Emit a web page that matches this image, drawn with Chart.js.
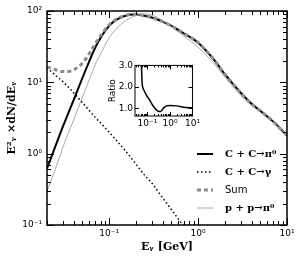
<!DOCTYPE html>
<html>
<head>
<meta charset="utf-8">
<script src="https://cdn.jsdelivr.net/npm/chart.js@4.4.1/dist/chart.umd.min.js"></script>
<style>
  html, body { margin: 0; padding: 0; background: #fff; }
  #wrap { position: relative; width: 301px; height: 258px; }
  #main { position: absolute; left: 0; top: 0; }
  #inset { position: absolute; left: 100px; top: 58px; }
</style>
</head>
<body>
<div id="wrap">
  <canvas id="main" width="301" height="258"></canvas>
  <canvas id="inset" width="102" height="74"></canvas>
</div>
<script>
// photon energy grid, GeV
const energy = [0.02, 0.025, 0.03, 0.035, 0.04, 0.05, 0.06, 0.07, 0.08, 0.1, 0.12, 0.15, 0.19,
  0.25, 0.3, 0.4, 0.5, 0.7, 1.0, 1.5, 2, 3, 4, 5, 7, 10];

// E^2 dN/dE
const ccPi0 = [0.62, 1.3, 2.35, 3.8, 5.7, 11.5, 20, 31, 42, 62, 75, 85, 89,
  86, 81, 71, 62, 48, 36, 21, 13, 7.2, 5.0, 4.0, 2.8, 1.8];
const ccGamma = [16, 12.5, 10.3, 8.5, 7.1, 5.2, 4.0, 3.2, 2.7, 2.0, 1.55, 1.12, 0.78,
  0.5, 0.39, 0.24, 0.165, 0.093, 0.05, null, null, null, null, null, null, null];
const sumCC = [16.5, 15, 14.2, 14.2, 15, 18.5, 25.5, 35, 45, 64, 76.5, 86, 90,
  86.5, 81.5, 71, 62, 48, 36, 21, 13, 7.2, 5.0, 4.0, 2.8, 1.8];
const ppPi0 = [0.3, 0.62, 1.2, 2.0, 3.0, 6.2, 11, 18, 25, 42, 56, 72, 84,
  91, 88, 74, 60, 44, 31, 18.5, 11.8, 6.6, 4.7, 3.8, 2.7, 1.85];

// inset: ratio C+C / p+p
const ratioEnergy = [0.05, 0.055, 0.057, 0.06, 0.07, 0.09, 0.12, 0.17, 0.24, 0.3, 0.38, 0.5, 0.7, 1, 2, 4, 10];
const ratio = [3.5, 2.8, 2.3, 2.05, 1.85, 1.62, 1.42, 1.15, 0.95, 0.87, 0.86, 1.0, 1.12, 1.14, 1.12, 1.06, 1.03];

const mainXTicks = [0.1, 1, 10];
const mainYTicks = [0.1, 1, 10, 100];
const insetXTicks = [0.1, 1, 10];
const insetYTicks = [1.0, 1.5, 2.0, 2.5, 3.0];

const SUP = { "-": "\u207B", "0": "\u2070", "1": "\u00B9", "2": "\u00B2", "3": "\u00B3" };

function powerLabel(value) {
  const exp = Math.round(Math.log10(value));
  return "10" + String(exp).split("").map((c) => SUP[c]).join("");
}

function toPoints(xs, ys) {
  return xs.map((x, i) => ({ x, y: ys[i] }));
}

function logTickValues(scale) {
  const out = [];
  const lo = Math.floor(Math.log10(scale.min));
  const hi = Math.ceil(Math.log10(scale.max));
  for (let e = lo; e <= hi; e++) {
    for (let m = 1; m <= 9; m++) {
      const v = m * Math.pow(10, e);
      if (v >= scale.min * 0.999 && v <= scale.max * 1.001) out.push([v, m === 1]);
    }
  }
  return out;
}

// matplotlib-like frame with inward ticks on all four sides
const frameTicks = {
  id: "frameTicks",
  afterDraw(chart, args, opts) {
    const { ctx, chartArea: a, scales } = chart;
    ctx.save();
    ctx.strokeStyle = "#000";
    ctx.lineWidth = 1;
    const seg = (x1, y1, x2, y2) => {
      ctx.beginPath();
      ctx.moveTo(x1, y1);
      ctx.lineTo(x2, y2);
      ctx.stroke();
    };
    const xs = scales.x.type === "logarithmic" ? logTickValues(scales.x) : scales.x.ticks.map((t) => [t.value, true]);
    const ys = scales.y.type === "logarithmic" ? logTickValues(scales.y) : scales.y.ticks.map((t) => [t.value, true]);
    xs.forEach(([v, major]) => {
      const px = Math.round(scales.x.getPixelForValue(v)) + 0.5;
      const len = major ? opts.major : opts.minor;
      seg(px, a.bottom, px, a.bottom - len);
      seg(px, a.top, px, a.top + len);
    });
    ys.forEach(([v, major]) => {
      const py = Math.round(scales.y.getPixelForValue(v)) + 0.5;
      const len = major ? opts.major : opts.minor;
      seg(a.left, py, a.left + len, py);
      seg(a.right, py, a.right - len, py);
    });
    ctx.lineWidth = opts.frame;
    ctx.strokeRect(a.left, a.top, a.right - a.left, a.bottom - a.top);
    ctx.restore();
  },
};

// legend drawn inside the plot, lower right
const insideLegend = {
  id: "insideLegend",
  afterDraw(chart, args, opts) {
    if (!opts.show) return;
    const { ctx } = chart;
    ctx.save();
    chart.data.datasets.forEach((ds, i) => {
      const y = opts.y + i * opts.step;
      ctx.strokeStyle = ds.borderColor;
      ctx.lineWidth = ds.borderWidth;
      ctx.setLineDash(ds.borderDash || []);
      ctx.beginPath();
      ctx.moveTo(opts.x, y);
      ctx.lineTo(opts.x + opts.sample, y);
      ctx.stroke();
      ctx.setLineDash([]);
      ctx.fillStyle = "#000";
      ctx.font = ds.legendFont;
      ctx.textBaseline = "middle";
      ctx.fillText(ds.label, opts.x + opts.sample + opts.gap, y);
    });
    ctx.restore();
  },
};

const whiteArea = {
  id: "whiteArea",
  beforeDraw(chart) {
    const { ctx, chartArea: a } = chart;
    ctx.save();
    ctx.fillStyle = "#fff";
    ctx.fillRect(a.left, a.top, a.right - a.left, a.bottom - a.top);
    ctx.restore();
  },
};

const serifBold = "bold 10px 'DejaVu Serif'";
const sans = "10px 'DejaVu Sans'";

new Chart(document.getElementById("main"), {
  type: "line",
  data: {
    datasets: [
      {
        label: "C + C\u2192\u03C0\u2070",
        data: toPoints(energy, ccPi0),
        borderColor: "#000",
        borderWidth: 2,
        order: 4,
        legendFont: serifBold,
      },
      {
        label: "C + C\u2192\u03B3",
        data: toPoints(energy, ccGamma),
        borderColor: "#000",
        borderWidth: 1.5,
        borderDash: [1.5, 2.5],
        order: 3,
        legendFont: serifBold,
      },
      {
        label: "Sum",
        data: toPoints(energy, sumCC),
        borderColor: "#8c8c8c",
        borderWidth: 3,
        borderDash: [4, 3],
        order: 2,
        legendFont: sans,
      },
      {
        label: "p + p\u2192\u03C0\u2070",
        data: toPoints(energy, ppPi0),
        borderColor: "#aaaaaa",
        borderWidth: 1,
        order: 1,
        legendFont: serifBold,
      },
    ],
  },
  options: {
    responsive: false,
    animation: false,
    layout: { padding: { top: 11, right: 14, left: 0, bottom: 0 } },
    elements: {
      point: { radius: 0 },
      line: { cubicInterpolationMode: "monotone", fill: false },
    },
    datasets: { line: { clip: 0, spanGaps: false } },
    plugins: {
      legend: { display: false },
      tooltip: { enabled: false },
      frameTicks: { major: 7, minor: 4, frame: 1.5 },
      insideLegend: { show: true, x: 197, y: 154, step: 18, sample: 16, gap: 12 },
    },
    scales: {
      x: {
        type: "logarithmic",
        min: 0.02,
        max: 10,
        grid: { display: false, drawTicks: false },
        border: { display: false },
        afterBuildTicks: (scale) => { scale.ticks = mainXTicks.map((value) => ({ value })); },
        afterFit: (scale) => { scale.height = 33; },
        ticks: {
          padding: 3,
          maxRotation: 0,
          color: "#000",
          font: { family: "DejaVu Sans", size: 9 },
          callback: (value) => powerLabel(value),
        },
        title: {
          display: true,
          text: "E\u1D67 [GeV]",
          color: "#000",
          font: { family: "DejaVu Serif", size: 11, weight: "bold" },
          padding: { top: 0, bottom: 4 },
        },
      },
      y: {
        type: "logarithmic",
        min: 0.1,
        max: 100,
        grid: { display: false, drawTicks: false },
        border: { display: false },
        afterBuildTicks: (scale) => { scale.ticks = mainYTicks.map((value) => ({ value })); },
        afterFit: (scale) => { scale.width = 47; },
        ticks: {
          padding: 5,
          color: "#000",
          font: { family: "DejaVu Sans", size: 9 },
          callback: (value) => powerLabel(value),
        },
        title: {
          display: true,
          text: "E\u00B2\u1D67 \u00D7dN/dE\u1D67",
          color: "#000",
          font: { family: "DejaVu Serif", size: 11, weight: "bold" },
          padding: { top: 6, bottom: 0 },
        },
      },
    },
  },
  plugins: [whiteArea, frameTicks, insideLegend],
});

new Chart(document.getElementById("inset"), {
  type: "line",
  data: {
    datasets: [
      {
        label: "Ratio",
        data: toPoints(ratioEnergy, ratio),
        borderColor: "#000",
        borderWidth: 1.5,
      },
    ],
  },
  options: {
    responsive: false,
    animation: false,
    layout: { padding: { top: 7, right: 7, left: 0, bottom: 0 } },
    elements: {
      point: { radius: 0 },
      line: { cubicInterpolationMode: "monotone", fill: false },
    },
    datasets: { line: { clip: 0 } },
    plugins: {
      legend: { display: false },
      tooltip: { enabled: false },
      frameTicks: { major: 4, minor: 2, frame: 1 },
      insideLegend: { show: false },
    },
    scales: {
      x: {
        type: "logarithmic",
        min: 0.028,
        max: 10,
        grid: { display: false, drawTicks: false },
        border: { display: false },
        afterBuildTicks: (scale) => { scale.ticks = insetXTicks.map((value) => ({ value })); },
        afterFit: (scale) => { scale.height = 16; },
        ticks: {
          padding: 2,
          maxRotation: 0,
          color: "#000",
          font: { family: "DejaVu Sans", size: 9 },
          callback: (value) => powerLabel(value),
        },
      },
      y: {
        type: "linear",
        min: 0.65,
        max: 3.0,
        grid: { display: false, drawTicks: false },
        border: { display: false },
        afterBuildTicks: (scale) => { scale.ticks = insetYTicks.map((value) => ({ value })); },
        afterFit: (scale) => { scale.width = 35; },
        ticks: {
          padding: 2,
          color: "#000",
          font: { family: "DejaVu Sans", size: 9 },
          callback: (value) => value.toFixed(1),
        },
        title: {
          display: true,
          text: "Ratio",
          color: "#000",
          font: { family: "DejaVu Sans", size: 9 },
          padding: { top: 7, bottom: 0 },
        },
      },
    },
  },
  plugins: [whiteArea, frameTicks],
});
</script>
</body>
</html>
